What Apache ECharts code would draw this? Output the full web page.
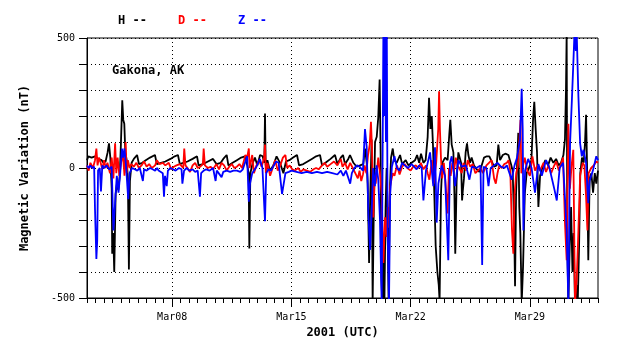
<!DOCTYPE html>
<html><head><meta charset="utf-8">
<script src="https://cdn.jsdelivr.net/npm/echarts@6/dist/echarts.min.js"></script>
<style>html,body{margin:0;padding:0;background:#fff}#c{width:638px;height:359px}</style>
</head><body><div id="c"></div>
<script>
// x = day of March 2001 (UTC), 33 = Apr 02 00:00
const hData = [[3.0,30],[3.08,45],[3.27,40],[3.47,45],[3.66,35],[3.86,30],[3.96,20],[4.09,25],[4.21,60],[4.29,95],[4.37,40],[4.45,-80],[4.48,-330],[4.54,-250],[4.60,-400],[4.68,-100],[4.76,-60],[4.84,-85],[4.92,-30],[4.99,90],[5.07,260],[5.13,185],[5.19,170],[5.25,60],[5.33,30],[5.40,-40],[5.46,-390],[5.52,-50],[5.62,20],[5.75,35],[5.94,50],[6.05,15],[6.25,20],[6.45,30],[6.7,40],[6.99,50],[7.1,15],[7.35,20],[7.6,25],[7.9,35],[8.15,45],[8.34,50],[8.45,15],[8.65,20],[8.9,25],[9.2,35],[9.46,45],[9.55,10],[9.8,15],[10.1,25],[10.4,35],[10.6,15],[10.85,20],[11.0,35],[11.2,50],[11.3,10],[11.55,20],[11.8,30],[12.05,40],[12.27,45],[12.41,10],[12.49,-20],[12.53,-310],[12.59,-20],[12.73,20],[12.86,40],[13.0,10],[13.16,50],[13.31,45],[13.41,20],[13.45,210],[13.49,10],[13.59,30],[13.74,-10],[13.94,10],[14.13,45],[14.2,50],[14.33,20],[14.53,-20],[14.68,25],[14.88,30],[15.1,40],[15.33,50],[15.45,10],[15.7,15],[15.95,25],[16.2,35],[16.45,45],[16.68,50],[16.8,10],[17.0,20],[17.3,35],[17.56,50],[17.7,15],[17.9,40],[18.03,50],[18.15,15],[18.34,35],[18.44,50],[18.64,20],[18.83,5],[19.03,10],[19.22,15],[19.32,75],[19.42,20],[19.48,-60],[19.56,-365],[19.63,-100],[19.71,110],[19.77,-520],[19.83,-200],[19.91,100],[20.01,120],[20.10,195],[20.18,340],[20.24,50],[20.28,-420],[20.34,-520],[20.40,-300],[20.46,-520],[20.53,-150],[20.59,0],[20.65,-250],[20.71,-520],[20.77,-110],[20.85,40],[20.95,75],[21.04,30],[21.18,20],[21.38,50],[21.5,15],[21.71,30],[21.87,10],[22.06,20],[22.26,30],[22.38,50],[22.5,20],[22.61,55],[22.75,20],[22.88,30],[23.0,120],[23.08,270],[23.16,150],[23.24,200],[23.31,90],[23.39,-100],[23.47,-300],[23.57,-400],[23.65,-450],[23.70,-510],[23.78,-100],[23.86,20],[24.02,40],[24.17,30],[24.27,130],[24.33,185],[24.41,90],[24.51,60],[24.57,-100],[24.62,-330],[24.70,-50],[24.80,60],[24.96,20],[25.02,-125],[25.06,-90],[25.13,-40],[25.23,60],[25.31,95],[25.39,50],[25.49,20],[25.58,40],[25.72,10],[25.88,-5],[26.04,-15],[26.17,10],[26.31,40],[26.47,45],[26.62,45],[26.76,25],[26.90,5],[27.05,10],[27.15,90],[27.25,30],[27.41,50],[27.56,55],[27.74,50],[27.87,20],[27.99,-10],[28.07,-200],[28.13,-455],[28.19,-100],[28.27,50],[28.32,135],[28.38,-150],[28.44,-250],[28.52,-520],[28.60,-380],[28.70,-100],[28.81,-20],[28.95,0],[29.09,30],[29.19,190],[29.26,255],[29.34,150],[29.42,60],[29.50,-150],[29.60,-30],[29.75,5],[29.91,30],[30.07,10],[30.22,40],[30.38,20],[30.54,35],[30.69,10],[30.83,20],[30.97,50],[31.06,110],[31.12,300],[31.16,520],[31.20,-300],[31.26,-520],[31.34,-300],[31.42,-150],[31.50,-400],[31.57,-250],[31.65,-520],[31.73,-450],[31.81,-520],[31.89,-300],[31.96,-20],[32.06,40],[32.16,20],[32.24,100],[32.30,205],[32.36,0],[32.43,-355],[32.51,-40],[32.61,-20],[32.71,-95],[32.81,-20],[32.90,-60],[33.0,-10]];

const dData = [[3.0,10],[3.1,-10],[3.2,20],[3.35,0],[3.47,30],[3.55,75],[3.62,10],[3.7,40],[3.8,20],[3.9,-5],[4.0,30],[4.1,0],[4.2,20],[4.35,-20],[4.45,40],[4.55,-40],[4.65,95],[4.72,-20],[4.8,40],[4.9,-30],[5.0,20],[5.1,60],[5.2,-30],[5.27,100],[5.33,-20],[5.4,30],[5.5,0],[5.6,15],[5.75,5],[5.9,20],[6.05,0],[6.2,10],[6.35,25],[6.5,5],[6.65,15],[6.8,0],[7.0,10],[7.1,30],[7.25,15],[7.45,20],[7.6,10],[7.8,20],[7.95,-5],[8.1,5],[8.25,10],[8.45,15],[8.65,0],[8.71,75],[8.78,10],[8.9,0],[9.05,-15],[9.2,10],[9.35,20],[9.5,0],[9.65,5],[9.8,15],[9.85,75],[9.92,10],[10.1,0],[10.25,5],[10.4,-5],[10.5,0],[10.6,15],[10.75,-5],[10.9,20],[11.05,10],[11.2,-10],[11.35,5],[11.5,15],[11.65,0],[11.8,5],[11.95,15],[12.1,0],[12.3,50],[12.4,40],[12.5,75],[12.55,0],[12.7,50],[12.8,-20],[12.95,10],[13.1,30],[13.25,5],[13.4,40],[13.45,90],[13.5,-20],[13.6,20],[13.75,-30],[13.9,0],[14.05,30],[14.2,-10],[14.35,10],[14.5,40],[14.65,50],[14.75,0],[14.9,10],[15.05,-5],[15.2,-10],[15.4,0],[15.55,-15],[15.7,-5],[15.9,-10],[16.1,-15],[16.3,-5],[16.45,0],[16.6,-5],[16.8,10],[16.95,20],[17.1,5],[17.3,15],[17.5,25],[17.7,10],[17.9,35],[18.0,5],[18.15,20],[18.3,-5],[18.45,20],[18.6,0],[18.75,-20],[18.9,-40],[19.0,-10],[19.1,-50],[19.2,-25],[19.3,10],[19.4,-20],[19.5,50],[19.6,90],[19.67,178],[19.73,80],[19.81,-190],[19.88,-50],[19.95,-60],[20.1,40],[20.2,-20],[20.3,-100],[20.4,-365],[20.5,-190],[20.59,-265],[20.65,-150],[20.7,-230],[20.8,-70],[20.95,-20],[21.05,-30],[21.2,10],[21.35,-25],[21.5,5],[21.65,15],[21.8,0],[22.0,-10],[22.15,5],[22.3,10],[22.45,0],[22.6,20],[22.75,-5],[22.9,10],[23.0,-20],[23.1,-45],[23.25,30],[23.35,-60],[23.5,20],[23.62,150],[23.67,295],[23.72,150],[23.78,40],[23.85,-40],[23.95,20],[24.05,-60],[24.17,-175],[24.25,0],[24.35,-30],[24.45,20],[24.55,-10],[24.65,40],[24.75,10],[24.85,0],[25.0,-20],[25.1,20],[25.25,-10],[25.35,30],[25.5,5],[25.65,15],[25.8,-20],[25.95,-10],[26.1,0],[26.25,-20],[26.45,10],[26.6,20],[26.75,30],[26.9,-40],[27.0,-60],[27.1,-20],[27.2,10],[27.35,0],[27.5,15],[27.65,20],[27.75,30],[27.85,-10],[27.95,-240],[28.03,-330],[28.1,-100],[28.2,-20],[28.3,10],[28.45,185],[28.5,-20],[28.7,40],[28.85,-10],[29.0,-30],[29.15,45],[29.3,-10],[29.45,10],[29.6,-10],[29.8,20],[29.95,-15],[30.1,10],[30.25,-20],[30.4,5],[30.55,25],[30.7,-10],[30.85,20],[30.95,40],[31.06,-210],[31.16,-355],[31.26,170],[31.35,-80],[31.45,10],[31.55,70],[31.65,-520],[31.75,-430],[31.85,-240],[31.95,-30],[32.1,20],[32.2,10],[32.3,-110],[32.38,-240],[32.45,-20],[32.6,0],[32.75,10],[32.9,25],[33.0,20]];

const zData = [[3.0,10],[3.1,0],[3.2,10],[3.3,0],[3.42,5],[3.47,-160],[3.55,-350],[3.6,-280],[3.65,-10],[3.75,0],[3.82,-90],[3.9,10],[4.0,0],[4.15,10],[4.3,-5],[4.45,5],[4.55,-240],[4.6,-190],[4.68,-100],[4.75,-30],[4.85,-95],[4.95,-20],[5.05,75],[5.12,40],[5.2,75],[5.3,0],[5.42,-120],[5.5,-20],[5.65,0],[5.8,-5],[5.95,-10],[6.1,0],[6.28,-50],[6.35,-5],[6.5,-10],[6.7,0],[6.85,-5],[7.0,-10],[7.12,0],[7.2,-10],[7.45,-20],[7.52,-110],[7.58,-30],[7.68,-70],[7.75,-10],[7.9,0],[8.05,-5],[8.2,-10],[8.4,0],[8.55,-5],[8.6,-60],[8.7,-10],[8.85,0],[9.0,-10],[9.2,-5],[9.35,-15],[9.5,-10],[9.55,-50],[9.63,-110],[9.7,-20],[9.85,-10],[10.0,-5],[10.2,-10],[10.4,0],[10.55,-50],[10.62,-10],[10.9,-35],[11.0,-15],[11.2,-10],[11.4,-15],[11.6,-10],[11.8,-10],[12.0,-15],[12.15,-5],[12.4,45],[12.5,-130],[12.57,-60],[12.7,-20],[12.95,5],[13.15,35],[13.3,0],[13.45,-205],[13.52,-20],[13.65,-5],[13.8,-10],[14.1,25],[14.25,20],[14.45,-100],[14.55,-60],[14.65,-20],[14.85,-15],[15.0,-10],[15.3,-15],[15.6,-20],[15.9,-15],[16.2,-20],[16.5,-15],[16.8,-20],[17.1,-15],[17.4,-20],[17.7,-25],[17.9,-10],[18.05,-30],[18.2,-10],[18.4,-50],[18.45,-60],[18.55,-20],[18.7,0],[18.85,10],[19.0,5],[19.2,-10],[19.32,150],[19.42,80],[19.52,-180],[19.62,-315],[19.7,-190],[19.8,0],[19.9,-70],[20.0,10],[20.1,-45],[20.2,-200],[20.3,-520],[20.4,520],[20.45,200],[20.5,520],[20.55,100],[20.6,520],[20.65,-250],[20.73,-520],[20.8,-100],[20.9,5],[21.05,45],[21.2,0],[21.35,-10],[21.5,20],[21.65,10],[21.85,0],[22.05,15],[22.2,5],[22.35,-5],[22.5,10],[22.65,0],[22.75,-125],[22.9,-10],[23.14,60],[23.33,-70],[23.43,80],[23.53,-210],[23.63,-60],[23.82,10],[24.02,-30],[24.21,-355],[24.31,20],[24.41,45],[24.5,0],[24.61,-70],[24.8,30],[25.0,5],[25.1,0],[25.25,10],[25.45,-45],[25.6,5],[25.85,0],[26.1,10],[26.2,-373],[26.28,5],[26.45,0],[26.57,-70],[26.7,0],[26.9,10],[27.1,20],[27.3,5],[27.5,0],[27.65,10],[27.93,-45],[28.1,10],[28.25,40],[28.42,110],[28.52,305],[28.58,150],[28.62,-240],[28.72,-10],[28.9,35],[29.1,0],[29.3,-95],[29.5,15],[29.7,-30],[29.95,30],[30.15,0],[30.45,-85],[30.58,-125],[30.75,0],[30.95,20],[31.16,-240],[31.26,-520],[31.36,95],[31.46,250],[31.55,400],[31.62,520],[31.7,450],[31.75,520],[31.85,275],[31.95,95],[32.05,45],[32.15,70],[32.3,20],[32.43,-135],[32.5,-50],[32.7,-10],[32.9,45],[33.0,30]];

const seriesNames = ['H', 'D', 'Z'];
const seriesColors = ['#000000', '#ff0000', '#0000ff'];
const majorDays = [8, 15, 22, 29];
const xTickLabels = ['Mar08', 'Mar15', 'Mar22', 'Mar29'];
const yTickLabels = [-500, 0, 500];
const xStart = 3, xEnd = 33;

// half-day category slots for the labelled axis
const halfDays = [];
for (let d = xStart; d <= xEnd + 1e-9; d += 0.5) halfDays.push(d);
const catNames = halfDays.map(d => {
  const k = majorDays.indexOf(d);
  return k >= 0 ? xTickLabels[k] : '';
});
const isMajor = (i) => catNames[i] !== '';

const FONT = '"DejaVu Sans Mono", "Liberation Mono", monospace';
const chart = echarts.init(document.getElementById('c'), null, {renderer: 'canvas'});
chart.setOption({
  animation: false,
  backgroundColor: '#ffffff',
  grid: {left: 87, top: 38, right: 40, bottom: 61, show: true, borderColor: '#000', borderWidth: 1},
  graphic: [
    {type: 'text', left: 118, top: 15, style: {text: seriesNames[0] + ' --', fill: seriesColors[0], font: 'bold 12px ' + FONT}},
    {type: 'text', left: 178, top: 15, style: {text: seriesNames[1] + ' --', fill: seriesColors[1], font: 'bold 12px ' + FONT}},
    {type: 'text', left: 238, top: 15, style: {text: seriesNames[2] + ' --', fill: seriesColors[2], font: 'bold 12px ' + FONT}},
    {type: 'text', left: 112, top: 65, z: 100, style: {text: 'Gakona, AK', fill: '#000', font: 'bold 12px ' + FONT}}
  ],
  xAxis: [
    {
      type: 'value', min: xStart, max: xEnd, interval: 0.5, position: 'bottom',
      axisLine: {show: true, onZero: false, lineStyle: {color: '#000', width: 1}},
      axisTick: {show: true, inside: false, length: 5, lineStyle: {color: '#000', width: 1}},
      axisLabel: {show: false},
      splitLine: {show: false}
    },
    {
      type: 'category', data: catNames, boundaryGap: false, position: 'bottom',
      axisLine: {show: false, onZero: false},
      axisTick: {show: true, inside: false, length: 9, interval: (i) => isMajor(i), lineStyle: {color: '#000', width: 1}},
      axisLabel: {show: true, interval: (i) => isMajor(i), margin: 14, color: '#000', fontFamily: FONT, fontSize: 10},
      splitLine: {show: true, interval: (i) => isMajor(i), lineStyle: {color: '#000', type: [1, 3], width: 1}},
      name: '2001 (UTC)', nameLocation: 'middle', nameGap: 26,
      nameTextStyle: {color: '#000', fontFamily: FONT, fontSize: 12, fontWeight: 'bold'}
    }
  ],
  yAxis: {
    type: 'value', min: -500, max: 500, interval: 100,
    axisLine: {show: true, onZero: false, lineStyle: {color: '#000', width: 1}},
    axisTick: {show: true, inside: false, length: 8, lineStyle: {color: '#000', width: 1}},
    axisLabel: {margin: 12, color: '#000', fontFamily: FONT, fontSize: 10,
      formatter: (v) => yTickLabels.indexOf(v) >= 0 ? String(v) : ''},
    splitLine: {show: true, lineStyle: {color: '#000', type: [1, 3], width: 1}},
    name: 'Magnetic Variation (nT)', nameLocation: 'middle', nameGap: 56, nameRotate: 90,
    nameTextStyle: {color: '#000', fontFamily: FONT, fontSize: 12, fontWeight: 'bold'}
  },
  series: [hData, dData, zData].map((d, i) => ({
    name: seriesNames[i], type: 'line', xAxisIndex: 0, data: d,
    showSymbol: false, symbol: 'none', clip: true,
    lineStyle: {color: seriesColors[i], width: 1.8}, itemStyle: {color: seriesColors[i]}
  }))
});
</script></body></html>
